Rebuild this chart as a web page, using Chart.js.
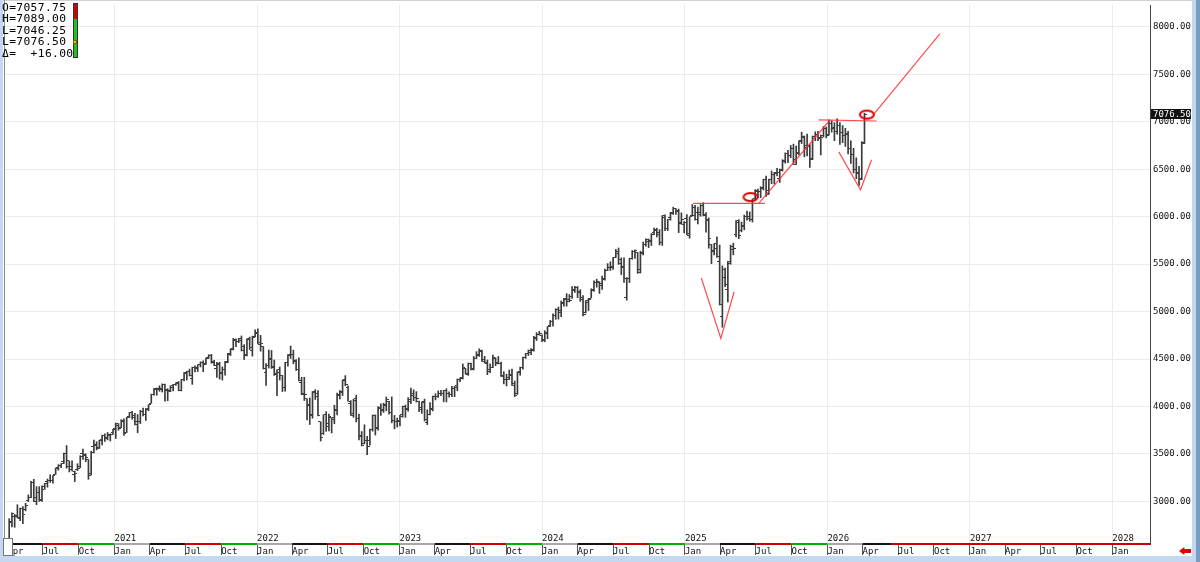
<!DOCTYPE html>
<html><head><meta charset="utf-8">
<script src="https://cdn.jsdelivr.net/npm/chart.js@4.4.1/dist/chart.umd.min.js"></script>
<style>
html,body{margin:0;padding:0;width:1200px;height:562px;overflow:hidden;background:#c4d9ef;}
#wrap{position:absolute;left:3px;top:0;width:1189px;height:556px;background:#fff;border-top:1px solid #d0d0d0;box-sizing:border-box;}
#c{position:absolute;left:0;top:0;width:1200px;height:562px;}
#lborder{position:absolute;left:4px;top:0;width:1px;height:545px;background:#8a8a8a;}
#rband{position:absolute;left:1196px;top:0;width:4px;height:562px;background:#7d9cc4;}
#info{position:absolute;left:2px;top:2px;font-family:'DejaVu Sans Mono',monospace;font-size:11.3px;line-height:11.4px;letter-spacing:0.35px;color:#000;white-space:pre;z-index:3;}
#ind{position:absolute;left:73px;top:3px;width:3px;height:53px;border:1px solid #333;background:linear-gradient(#d40000 0,#d40000 28%,#1fc21f 28%,#1fc21f 100%);z-index:3;}
#indm{position:absolute;left:73px;top:40px;width:4px;height:4px;background:#e8d000;border:1px solid #6a6a00;box-sizing:border-box;z-index:4;}
#widget{position:absolute;left:3px;top:538px;width:10px;height:18px;border:1px solid #777;background:#fff;box-sizing:border-box;z-index:3;}
#arrow{position:absolute;left:1179px;top:547px;width:12px;height:8px;background:#e00000;clip-path:polygon(0 50%,45% 0,45% 25%,100% 25%,100% 75%,45% 75%,45% 100%);z-index:3;}
</style></head><body>
<div id="wrap"></div>
<canvas id="c" width="1200" height="562"></canvas>
<div id="lborder"></div>
<div id="rband"></div>
<div id="info">O=7057.75
H=7089.00
L=7046.25
L=7076.50
Δ=  +16.00</div>
<div id="ind"></div><div id="indm"></div>
<div id="widget"></div>
<div id="arrow"></div>
<script>
// ---------- data: weekly OHLC rows [open, high, low, close], weeks starting Monday ----------
const firstWeek = '2020-04-06';
const ohlc2020 = [
[2578,2818,2578,2790],[2782,2880,2730,2875],[2846,2862,2727,2837],[2854,2965,2825,2831],
[2815,2930,2798,2930],[2930,2945,2766,2864],[2913,2980,2900,2955],[3005,3068,2998,3044],
[3038,3211,3038,3194],[3199,3233,2999,3041],[3000,3155,2965,3098],[3094,3155,3000,3009],
[3018,3165,3000,3130],[3155,3190,3127,3185],[3205,3235,3150,3225],[3224,3280,3200,3216],
[3219,3272,3193,3271],[3288,3352,3284,3351],[3356,3387,3328,3373],[3380,3399,3355,3397],
[3418,3509,3401,3508],[3508,3588,3349,3427],[3369,3425,3310,3341],[3363,3428,3320,3319],
[3285,3320,3209,3298],[3333,3397,3323,3348],[3367,3482,3355,3477],[3500,3550,3441,3484],
[3493,3502,3418,3465],[3441,3441,3233,3270],[3296,3529,3279,3510],[3583,3646,3511,3585],
[3600,3628,3543,3557],[3566,3645,3558,3638],[3654,3699,3594,3699],[3694,3712,3633,3663],
[3675,3726,3648,3709],[3694,3711,3636,3703],[3723,3760,3707,3756]
];
const ohlc2021 = [
[3764,3826,3663,3825],[3803,3820,3750,3768],[3781,3861,3777,3841],[3855,3870,3694,3714],
[3731,3887,3725,3887],[3892,3937,3884,3934],[3939,3950,3867,3907],[3886,3928,3805,3811],
[3842,3915,3723,3842],[3844,3960,3820,3943],[3942,3983,3900,3913],[3916,3978,3853,3975],
[3969,4020,3955,4019],[4034,4130,4034,4129],[4124,4191,4118,4185],[4179,4195,4118,4180],
[4185,4218,4160,4181],[4191,4238,4152,4233],[4228,4236,4057,4174],[4169,4187,4061,4156],
[4165,4218,4155,4204],[4216,4234,4164,4230],[4229,4249,4221,4247],[4248,4262,4165,4166],
[4173,4286,4164,4281],[4285,4356,4270,4352],[4356,4372,4279,4370],[4372,4394,4321,4327],
[4297,4415,4233,4412],[4409,4429,4364,4395],[4406,4440,4368,4437],[4437,4470,4416,4468],
[4461,4481,4367,4441],[4450,4510,4443,4509],[4514,4545,4505,4535],[4535,4549,4456,4459],
[4469,4486,4429,4432],[4402,4465,4305,4455],[4442,4466,4288,4357],[4348,4417,4278,4391],
[4385,4475,4329,4471],[4464,4560,4460,4545],[4553,4608,4537,4605],[4610,4718,4595,4697],
[4701,4714,4630,4683],[4689,4717,4672,4698],[4712,4743,4585,4595],[4628,4652,4495,4538],
[4548,4713,4532,4712],[4710,4731,4600,4621],[4587,4741,4531,4725],[4733,4808,4733,4766]
];
const ohlc2022 = [
[4778,4819,4662,4677],[4655,4749,4582,4663],[4632,4632,4395,4398],[4357,4453,4222,4432],
[4431,4595,4405,4500],[4505,4590,4401,4419],[4412,4490,4327,4349],[4332,4386,4115,4385],
[4354,4416,4279,4329],[4327,4327,4157,4204],[4202,4465,4161,4463],[4462,4546,4424,4543],
[4541,4637,4506,4546],[4547,4593,4450,4488],[4474,4494,4381,4392],[4385,4513,4269,4272],
[4255,4308,4124,4132],[4130,4307,4063,4123],[4081,4081,3859,4024],[4013,4090,3810,3901],
[3920,4158,3876,4158],[4151,4177,4074,4109],[4134,4168,3901,3901],[3838,3838,3636,3675],
[3715,3913,3705,3912],[3920,3945,3738,3825],[3792,3919,3743,3899],[3880,3880,3721,3863],
[3883,4013,3818,3962],[3966,4140,3910,4130],[4112,4167,4080,4145],[4155,4280,4115,4280],
[4269,4325,4218,4228],[4195,4218,4057,4057],[4035,4062,3906,3924],[3909,4077,3886,4067],
[4084,4119,3837,3873],[3871,3920,3647,3693],[3682,3736,3584,3586],[3610,3807,3605,3640],
[3640,3686,3492,3583],[3638,3762,3591,3753],[3762,3911,3740,3901],[3902,3912,3699,3771],
[3780,4000,3750,3993],[3977,4028,3906,3965],[3956,4034,3937,4026],[4005,4100,3954,4072],
[4053,4053,3918,3934],[3940,4101,3828,3852],[3853,3906,3764,3845],[3843,3878,3783,3840]
];
const ohlc2023 = [
[3853,3906,3794,3895],[3911,4004,3887,3999],[3999,4015,3885,3973],[3979,4095,3950,4071],
[4055,4195,4030,4136],[4119,4176,4061,4090],[4097,4156,4047,4079],[4057,4057,3944,3970],
[3992,4048,3928,4046],[4055,4078,3847,3862],[3835,3965,3809,3917],[3917,4040,3910,3971],
[3982,4110,3953,4109],[4102,4134,4069,4105],[4110,4164,4096,4138],[4140,4170,4114,4133],
[4134,4170,4049,4169],[4166,4187,4048,4136],[4136,4154,4099,4124],[4126,4212,4103,4192],
[4190,4212,4103,4205],[4226,4290,4166,4282],[4282,4299,4261,4299],[4308,4448,4290,4410],
[4396,4401,4341,4348],[4337,4458,4328,4450],[4450,4456,4385,4399],[4394,4527,4385,4505],
[4506,4578,4504,4536],[4547,4607,4528,4582],[4587,4595,4474,4478],[4492,4528,4458,4464],
[4458,4490,4335,4370],[4385,4450,4356,4406],[4411,4541,4408,4516],[4510,4514,4430,4457],
[4468,4527,4448,4450],[4453,4467,4316,4320],[4328,4367,4238,4288],[4285,4340,4216,4309],
[4289,4385,4283,4327],[4342,4394,4223,4224],[4239,4268,4104,4117],[4139,4365,4127,4358],
[4364,4415,4329,4415],[4406,4521,4394,4514],[4511,4560,4506,4559],[4554,4595,4537,4595],
[4568,4609,4546,4604],[4593,4739,4582,4719],[4725,4778,4695,4754],[4758,4793,4751,4770]
];
const ohlc2024 = [
[4745,4755,4683,4697],[4703,4798,4682,4784],[4772,4842,4714,4840],[4853,4907,4842,4891],
[4892,4975,4845,4959],[4957,5030,4919,5027],[5026,5048,4920,5006],[4989,5111,4946,5089],
[5093,5140,5057,5137],[5130,5189,5057,5124],[5111,5179,5102,5117],[5154,5262,5138,5234],
[5219,5265,5203,5254],[5257,5264,5146,5204],[5211,5230,5107,5123],[5150,5168,4954,4967],
[4988,5114,4986,5100],[5115,5139,5011,5128],[5142,5240,5142,5223],[5233,5325,5212,5303],
[5306,5342,5257,5305],[5315,5315,5191,5278],[5297,5375,5234,5347],[5341,5447,5331,5432],
[5432,5505,5432,5465],[5460,5524,5433,5460],[5471,5570,5445,5567],[5572,5655,5570,5615],
[5638,5670,5497,5505],[5544,5566,5390,5459],[5477,5566,5306,5346],[5151,5358,5120,5344],
[5353,5563,5306,5554],[5557,5643,5551,5634],[5637,5651,5560,5648],[5623,5623,5402,5408],
[5442,5636,5406,5626],[5615,5733,5596,5703],[5711,5767,5690,5738],[5758,5765,5674,5751],
[5737,5822,5696,5815],[5835,5879,5809,5865],[5857,5878,5786,5808],[5833,5863,5702,5729],
[5724,6012,5697,5996],[6008,6018,5853,5870],[5878,5972,5853,5969],[5992,6045,5963,6032],
[6041,6100,6023,6090],[6083,6085,6024,6051],[6063,6080,5832,5931],[5941,6040,5920,5971],
[5921,5949,5829,5942]
];
const ohlc2025 = [
[5982,6021,5809,5827],[5806,5998,5773,5997],[6014,6128,6007,6101],[6013,6120,5962,6040],
[5969,6101,5923,6026],[6046,6127,6004,6115],[6121,6147,6008,6013],[6026,6044,5837,5955],
[5969,5987,5667,5770],[5705,5706,5505,5639],[5635,5715,5597,5667],[5718,5787,5570,5581],
[5527,5700,5069,5074],[4953,5481,4835,5363],[5441,5459,5263,5283],[5232,5528,5101,5525],
[5508,5700,5499,5687],[5655,5720,5598,5660],[5807,5958,5786,5958],[5937,5968,5768,5803],
[5855,5944,5840,5912],[5896,6017,5861,6000],[6005,6059,5963,5977],[6005,6050,5952,5967],
[5969,6187,5943,6173],[6193,6285,6178,6279],[6260,6291,6201,6260],[6260,6315,6201,6297],
[6304,6395,6281,6389],[6395,6427,6212,6238],[6271,6395,6236,6389],[6389,6481,6346,6449],
[6449,6467,6343,6466],[6457,6508,6430,6460],[6401,6502,6360,6482],[6498,6600,6480,6584],
[6590,6672,6563,6664],[6670,6699,6570,6643],[6640,6750,6620,6716],[6720,6764,6550,6552],
[6600,6745,6550,6664],[6680,6800,6650,6791],[6800,6890,6770,6840],[6830,6850,6630,6728],
[6750,6870,6640,6734],[6740,6760,6520,6602],[6610,6850,6600,6849],[6840,6895,6800,6870],
[6870,6900,6800,6827],[6830,6860,6650,6834],[6850,6950,6840,6930],[6930,6945,6830,6858]
];
const ohlc2026 = [
[6870,7020,6860,6980],[6980,7010,6890,6940],[6930,6990,6800,6900],[6900,7030,6870,6960],
[6960,6990,6760,6890],[6890,6960,6780,6850],[6850,6930,6740,6880],[6870,6900,6660,6720],
[6720,6800,6560,6660],[6660,6720,6460,6500],[6500,6620,6400,6460],[6450,6530,6330,6390],
[6400,6790,6390,6770],[6780,7089,6770,7076.5]
];

// axis ticks
const yTickValues = [3000,3500,4000,4500,5000,5500,6000,6500,7000,7500,8000];
const quarterNames = ['Jan','Apr','Jul','Oct'];
const tickYears = [2020,2021,2022,2023,2024,2025,2026,2027,2028];
const axisStart = '2020-03-26';
const axisEnd = '2028-04-06';
const yMin = 2551, yMax = 8230;

// annotations (date, price)
const breakoutLevel = [['2025-01-22',6139],['2025-07-25',6139]];
const trendLine = [['2025-07-09',6139],['2026-01-04',7000]];
const highLevel = [['2025-12-10',7020],['2026-05-07',7008]];
const springV1 = [['2025-02-12',5353],['2025-04-03',4717],['2025-05-07',5209]];
const springV2 = [['2026-01-30',6683],['2026-03-27',6283],['2026-04-24',6599]];
const projection = [['2026-04-30',7080],['2026-10-16',7926]];
const circled = [['2025-06-18',6206],['2026-04-12',7075]];

// strip colours by quarter, future section all red
const stripQuarterColors = ['#a8a8a8','#141414','#cc0000','#00b000'];
const stripFutureColor = '#cc0000';
const stripFutureFrom = '2026-06-15';

// ---------- build ----------
const START = Date.UTC(2020,3,6);
function dayOf(s){const p=s.split('-').map(Number);return (Date.UTC(p[0],p[1]-1,p[2])-START)/86400000;}
const xMin = dayOf(axisStart)+0.25, xMax = dayOf(axisEnd)+0.4;
const allBars = ohlc2020.concat(ohlc2021,ohlc2022,ohlc2023,ohlc2024,ohlc2025,ohlc2026);
const w0 = dayOf(firstWeek);
const rangeData = allBars.map((r,i)=>({x:w0+7*i,y:[r[2],r[1]]}));
const openData = allBars.map((r,i)=>({x:w0+7*i,y:r[0]}));
const closeData = allBars.map((r,i)=>({x:w0+7*i,y:r[3]}));
const lastClose = allBars[allBars.length-1][3];

const quarterTicks = [];
tickYears.forEach(y=>{for(let q=0;q<4;q++){const d=(Date.UTC(y,q*3,1)-START)/86400000; if(d>=xMin && d<=xMax-10) quarterTicks.push({value:d,month:quarterNames[q],year:q===0?String(y):''});}});

function pts(a){return a.map(p=>({x:dayOf(p[0]),y:p[1]}));}
const stripX = [xMin].concat(quarterTicks.map(t=>t.value),[dayOf(stripFutureFrom),dayOf('2028-04-01'),xMax]).sort((a,b)=>a-b);
const stripData = stripX.map(x=>({x:x,y:yMin}));
function stripColor(x){ if(x>=dayOf(stripFutureFrom)) return stripFutureColor; const dt=new Date(START+(x+0.5)*86400000); return stripQuarterColors[Math.floor(dt.getUTCMonth()/3)]; }

const barColor = '#3a3a3a';
function tickImg(left){const c=document.createElement('canvas');c.width=5;c.height=1;const g=c.getContext('2d');g.fillStyle=barColor;g.fillRect(left?0:3,0,2,1);return c;}
function ellipseImg(){const c=document.createElement('canvas');c.width=18;c.height=12;const g=c.getContext('2d');g.strokeStyle='#e00000';g.lineWidth=2;g.beginPath();g.ellipse(9,6,7,4,0,0,Math.PI*2);g.stroke();return c;}

const annoColor = 'rgba(255,45,45,0.85)';
function annoLine(a){return {type:'line',data:pts(a),borderColor:annoColor,borderWidth:1.2,pointRadius:0,fill:false,clip:false};}

const lastPricePlugin = {id:'lastPrice',afterDraw(chart){const ys=chart.scales.y;const y=ys.getPixelForValue(lastClose);const ctx=chart.ctx;ctx.save();ctx.fillStyle='#111';ctx.fillRect(ys.left+1,Math.round(y)-5,40,10);ctx.fillStyle='#fff';ctx.font="9px 'DejaVu Sans Mono'";ctx.textBaseline='middle';ctx.fillText(lastClose.toFixed(2),ys.left+3,y);ctx.restore();}};
function noPad(s){s.paddingTop=0;s.paddingBottom=0;s.paddingLeft=0;s.paddingRight=0;}

const monoFont = 'DejaVu Sans Mono';
new Chart(document.getElementById('c'),{
  type:'bar',
  data:{datasets:[
    {type:'line',data:pts(circled),showLine:false,pointStyle:ellipseImg(),pointRadius:4,clip:false},
    annoLine(breakoutLevel),annoLine(trendLine),annoLine(highLevel),annoLine(springV1),annoLine(springV2),annoLine(projection),
    {type:'line',data:stripData,borderWidth:2,pointRadius:0,clip:false,borderColor:'#141414',segment:{borderColor:c=>stripColor(c.p0.parsed.x)}},
    {type:'line',data:closeData,showLine:false,pointStyle:tickImg(false),pointRadius:2},
    {type:'line',data:openData,showLine:false,pointStyle:tickImg(true),pointRadius:2},
    {type:'bar',data:rangeData,backgroundColor:barColor,borderWidth:0,barThickness:1,grouped:false}
  ]},
  options:{
    responsive:false,animation:false,
    layout:{padding:{left:4,top:1,right:8,bottom:6}},
    plugins:{legend:{display:false},tooltip:{enabled:false}},
    scales:{
      x:{type:'linear',min:xMin,max:xMax,offset:false,
        afterBuildTicks:s=>{s.ticks=quarterTicks.map(t=>({value:t.value}));},
        afterFit:s=>{s.height=12;noPad(s);},
        ticks:{autoSkip:false,maxRotation:0,minRotation:0,align:'start',mirror:true,padding:-1.25,color:'#111',
          font:{family:monoFont,size:9,lineHeight:'13px'},
          callback:(v,i)=>{const t=quarterTicks[i];return t?[t.year,t.month]:'';}},
        grid:{offset:false,color:c=>{const t=quarterTicks[c.index];return (t&&t.month==='Jan')?'#ebebeb':'rgba(0,0,0,0)';},tickColor:'#555',tickLength:11,lineWidth:1},
        border:{display:false}},
      y:{type:'linear',position:'right',min:yMin,max:yMax,
        afterBuildTicks:s=>{s.ticks=yTickValues.map(v=>({value:v}));},
        afterFit:s=>{s.width=42;noPad(s);},
        ticks:{padding:3,color:'#111',font:{family:monoFont,size:9},callback:v=>Number(v).toFixed(2)},
        grid:{color:'#ebebeb',drawTicks:false},
        border:{display:true,color:'#444',width:1}}
    }
  },
  plugins:[lastPricePlugin]
});
</script>
</body></html>
